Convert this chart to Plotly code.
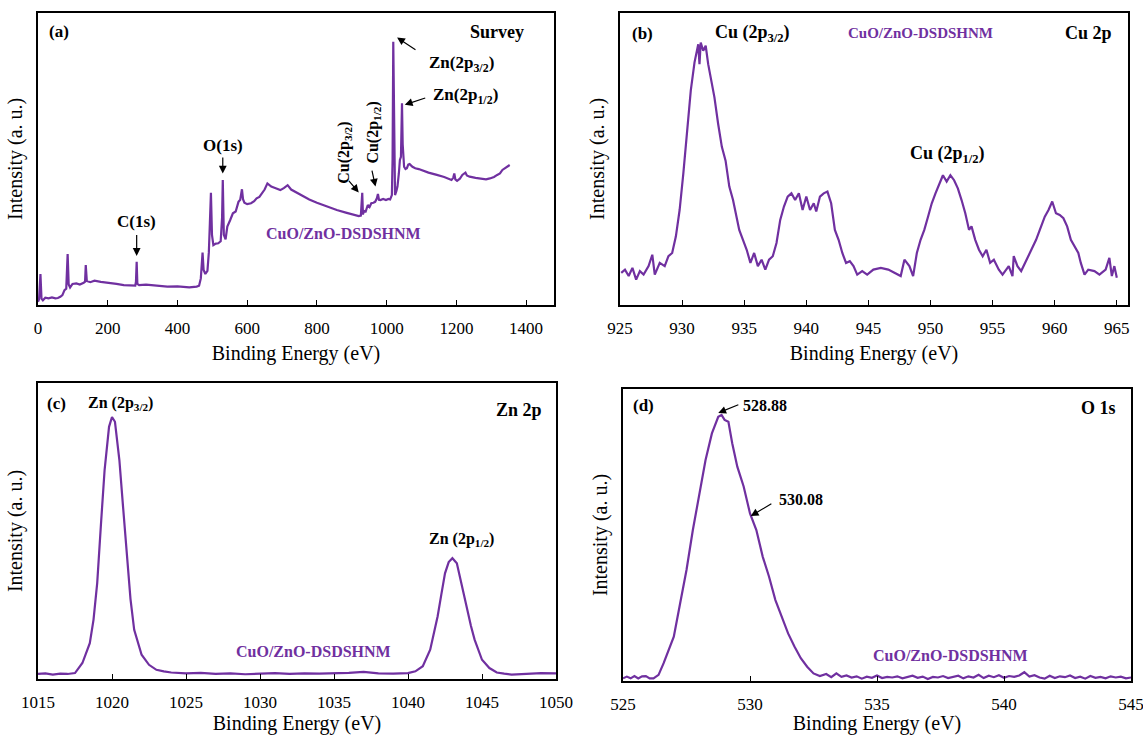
import plotly.graph_objects as go

# ---------------- data (intensity in % of axis height) -------------
survey_ev = [0, 3, 7, 10, 14, 21, 30, 40, 50, 57, 64, 70, 76, 81, 85, 88, 92, 99, 110, 120, 131, 135, 137, 140,
             150, 162, 180, 204, 225, 246, 265, 279, 281, 283, 285, 290, 310, 329, 350, 371, 400, 434, 455, 462,
             467, 470, 472, 475, 480, 486, 490, 493, 496, 499, 503, 510, 517, 524, 528, 530, 533, 538, 543, 551,
             559, 567, 575, 580, 583, 585, 588, 592, 600, 611, 620, 627, 635, 643, 650, 658, 664, 669, 680, 695,
             705, 716, 726, 737, 757, 778, 800, 831, 857, 883, 905, 920, 926, 928, 930, 932, 935, 940, 946, 951,
             956, 962, 967, 972, 975, 978, 982, 990, 998, 1005, 1010, 1015, 1017, 1019, 1021, 1024, 1028, 1031,
             1035, 1038, 1041, 1043, 1044, 1046, 1050, 1054, 1058, 1062, 1066, 1074, 1082, 1092, 1102, 1120,
             1144, 1165, 1186, 1191, 1194, 1197, 1202, 1210, 1217, 1222, 1226, 1230, 1238, 1255, 1270, 1285,
             1296, 1308, 1317, 1325, 1332, 1340, 1348, 1353]
survey_int = [1.1, 2.0, 10.6, 2.2, 1.6, 2.5, 2.3, 2.6, 2.3, 2.4, 2.8, 3.4, 5.1, 5.6, 17.4, 7.0, 6.0, 7.2, 7.4, 7.0,
              7.6, 8.0, 13.7, 8.2, 7.8, 8.3, 7.9, 7.4, 7.2, 6.8, 6.7, 6.6, 8.0, 14.8, 7.2, 6.8, 7.0, 6.8, 6.6,
              6.3, 6.4, 6.0, 6.3, 6.6, 9.1, 14.0, 17.9, 12.0, 10.6, 11.7, 18.0, 28.0, 38.4, 24.0, 20.5, 21.0,
              21.1, 21.8, 30.0, 42.8, 24.0, 22.5, 26.8, 29.0, 31.4, 32.0, 35.3, 36.0, 37.5, 39.6, 36.2, 35.0,
              34.5, 34.8, 35.5, 36.5, 37.0, 38.2, 39.5, 41.6, 40.8, 40.5, 40.0, 39.3, 40.0, 41.0, 39.5, 38.8,
              37.6, 36.1, 35.0, 33.6, 32.5, 31.6, 30.9, 30.4, 30.6, 34.0, 38.4, 31.0, 32.2, 32.0, 34.2, 33.5,
              34.8, 35.0, 35.3, 36.5, 38.0, 36.0, 35.9, 36.3, 35.9, 36.3, 36.1, 37.6, 50.0, 90.1, 60.0, 37.6,
              39.0, 40.5, 45.0, 49.6, 50.7, 62.0, 69.0, 55.0, 47.3, 46.5, 46.8, 48.0, 48.2, 47.3, 46.8, 46.5,
              46.0, 45.3, 44.5, 43.8, 42.8, 43.5, 45.0, 43.0, 42.5, 43.2, 44.5, 45.0, 45.3, 44.3, 43.9, 43.5,
              43.3, 43.0, 43.3, 43.8, 44.5, 45.0, 46.2, 46.8, 47.5, 47.9]

cu_ev = [925.1, 925.4, 925.7, 926.0, 926.3, 926.6, 926.9, 927.3, 927.6, 927.8, 928.2, 928.6, 928.9, 929.2, 929.5,
         929.8, 930.1, 930.4, 930.7, 931.0, 931.3, 931.4, 931.5, 931.7, 931.9, 932.1, 932.3, 932.6, 932.9, 933.2,
         933.5, 933.8, 934.1, 934.4, 934.6, 934.9, 935.2, 935.5, 935.8, 936.1, 936.4, 936.7, 937.0, 937.3, 937.6,
         937.9, 938.2, 938.5, 938.8, 939.1, 939.4, 939.7, 940.0, 940.3, 940.6, 940.8, 941.1, 941.4, 941.7, 942.0,
         942.3, 942.6, 942.9, 943.2, 943.5, 943.8, 944.1, 944.5, 944.9, 945.4, 946.0, 946.6, 947.1, 947.6, 947.9,
         948.3, 948.6, 948.9, 949.2, 949.5, 949.8, 950.1, 950.4, 950.7, 951.0, 951.3, 951.6, 951.9, 952.2, 952.5,
         952.8, 953.1, 953.3, 953.6, 953.9, 954.2, 954.5, 954.8, 955.1, 955.5, 955.8, 956.3, 956.6, 956.7, 957.0,
         957.3, 957.6, 957.9, 958.2, 958.5, 958.8, 959.2, 959.5, 959.8, 960.1, 960.4, 960.7, 961.0, 961.3, 961.6,
         961.9, 962.1, 962.4, 962.7, 963.2, 963.6, 964.1, 964.4, 964.6, 964.8, 965.0]
cu_int = [11.0, 12.1, 9.9, 12.7, 8.7, 11.6, 10.4, 13.3, 17.2, 10.4, 14.4, 13.3, 16.7, 17.8, 23.5, 32.5, 45.0, 59.8,
          73.4, 83.0, 89.2, 82.4, 89.8, 87.0, 88.7, 82.4, 77.9, 71.1, 62.0, 54.1, 49.4, 40.5, 35.9, 29.1, 25.7, 22.3,
          18.9, 14.4, 17.8, 13.3, 15.5, 12.1, 15.5, 16.7, 21.2, 29.1, 33.7, 37.1, 38.2, 35.9, 38.2, 32.5, 37.1, 32.5,
          34.8, 32.0, 37.1, 38.2, 38.8, 34.8, 25.7, 22.3, 17.8, 14.4, 15.0, 13.3, 10.4, 11.6, 10.4, 12.1, 12.7, 12.1,
          11.0, 9.9, 15.5, 13.3, 9.9, 17.8, 22.3, 25.7, 30.2, 34.8, 38.2, 41.6, 44.4, 42.2, 44.4, 42.7, 39.9, 35.9,
          31.4, 25.7, 26.9, 22.3, 18.9, 16.7, 18.9, 14.4, 15.5, 12.1, 10.4, 13.3, 9.9, 16.7, 13.3, 11.6, 14.4, 16.7,
          20.1, 22.3, 25.7, 30.2, 32.5, 35.4, 31.4, 30.8, 29.7, 26.9, 22.3, 20.1, 17.8, 14.4, 10.4, 12.1, 11.6, 10.4,
          12.1, 16.1, 9.9, 13.3, 9.3]

zn_ev = [1015, 1015.5, 1016, 1016.5, 1017, 1017.5, 1018, 1018.5, 1018.75, 1019, 1019.25, 1019.5, 1019.8, 1020,
         1020.2, 1020.5, 1020.75, 1021, 1021.25, 1021.5, 1022, 1022.5, 1023, 1023.5, 1024, 1025, 1026, 1027, 1028,
         1029, 1030, 1031, 1032, 1033, 1034, 1035, 1036, 1037, 1038, 1039, 1040, 1040.5, 1041, 1041.5, 1041.75,
         1042, 1042.25, 1042.5, 1042.75, 1043, 1043.3, 1043.7, 1044, 1044.25, 1044.5, 1045, 1045.5, 1046, 1046.5,
         1047, 1048, 1049, 1050]
zn_int = [1.7, 1.9, 1.5, 1.8, 1.7, 2.0, 5.4, 12.1, 20.0, 32.4, 52.0, 70.6, 85.2, 88.5, 86.9, 73.9, 58.0, 41.3, 27.0,
          16.6, 8.2, 4.8, 3.1, 2.6, 2.2, 1.9, 2.1, 1.7, 1.9, 1.6, 1.8, 2.0, 1.7, 1.9, 1.8, 1.9, 2.1, 2.4, 1.9, 1.8,
          2.0, 2.6, 4.3, 9.9, 15.0, 21.1, 28.5, 35.7, 39.5, 40.8, 39.1, 30.1, 23.4, 18.0, 13.3, 6.5, 3.7, 2.2, 1.8,
          1.5, 1.7, 2.0, 1.9]

o_ev = [525.0, 525.15, 525.3, 525.45, 525.6, 525.75, 525.9, 526.05, 526.2, 526.4, 526.6, 526.8, 527.0, 527.25,
        527.5, 527.75, 528.0, 528.25, 528.5, 528.75, 528.88, 529.0, 529.15, 529.3, 529.5, 529.75, 530.0, 530.1,
        530.25, 530.5, 530.75, 531.0, 531.25, 531.5, 531.75, 532.0, 532.25, 532.5, 532.75, 533.0, 533.2, 533.4,
        533.6, 533.8, 534.0, 534.2, 534.4, 534.6, 534.8, 535.0, 535.2, 535.4, 535.6, 535.8, 536.0, 536.2, 536.4,
        536.6, 536.8, 537.0, 537.2, 537.4, 537.6, 537.8, 538.0, 538.2, 538.4, 538.6, 538.8, 539.0, 539.2, 539.4,
        539.6, 539.8, 540.0, 540.2, 540.4, 540.6, 540.8, 541.0, 541.2, 541.4, 541.6, 541.8, 542.0, 542.2, 542.4,
        542.6, 542.8, 543.0, 543.2, 543.4, 543.6, 543.8, 544.0, 544.2, 544.4, 544.6, 544.8, 545.0]
o_int = [0.9, 1.5, 0.9, 1.7, 0.9, 1.6, 1.7, 0.9, 0.9, 2.1, 6.1, 10.6, 15.2, 26.6, 38.0, 51.7, 64.3, 75.7, 84.8, 90.5,
         91.1, 89.4, 88.8, 81.4, 73.4, 66.6, 57.4, 55.1, 51.7, 42.6, 35.7, 27.7, 22.0, 16.3, 11.8, 7.8, 4.9, 2.6,
         1.7, 2.4, 1.3, 2.6, 1.4, 1.9, 1.2, 1.6, 0.8, 1.5, 1.1, 1.9, 1.0, 1.4, 1.2, 1.6, 0.9, 1.3, 1.8, 1.1, 1.5,
         0.7, 1.4, 1.2, 1.7, 1.0, 1.5, 1.8, 0.9, 1.6, 1.2, 2.1, 1.0, 1.8, 1.3, 2.0, 1.1, 1.7, 1.4, 1.9, 3.0, 1.5,
         2.0, 1.2, 0.8, 1.8, 1.0, 1.6, 1.3, 1.9, 1.0, 1.5, 0.8, 1.7, 1.1, 1.4, 0.9, 1.6, 1.2, 1.5, 0.9, 1.2]

survey_ticks = [0, 200, 400, 600, 800, 1000, 1200, 1400]
cu_ticks = [925, 930, 935, 940, 945, 950, 955, 960, 965]
zn_ticks = [1015, 1020, 1025, 1030, 1035, 1040, 1045, 1050]
o_ticks = [525, 530, 535, 540, 545]

sample = "CuO/ZnO-DSDSHNM"

# ---------------- styling -------------
PURPLE = "#7030A0"
FONT = "Liberation Serif, Times New Roman, serif"
W, H = 1143, 735

def px_x(a, b):
    return [a / W, b / W]

def px_y(top, bottom):
    return [1 - bottom / H, 1 - top / H]

fig = go.Figure()
series = [(survey_ev, survey_int), (cu_ev, cu_int), (zn_ev, zn_int), (o_ev, o_int)]
for i, (xs, ys) in enumerate(series):
    sfx = "" if i == 0 else str(i + 1)
    fig.add_trace(go.Scatter(x=xs, y=ys, mode="lines", line=dict(color=PURPLE, width=2.2),
                             xaxis="x" + sfx, yaxis="y" + sfx, showlegend=False, hoverinfo="skip"))

domains = [
    (px_x(38, 554), px_y(12.7, 305)),
    (px_x(620, 1128), px_y(12.7, 305)),
    (px_x(38, 556), px_y(383, 679)),
    (px_x(623, 1131), px_y(389, 681)),
]
xranges = [[0, 1480], [925, 965.9], [1015, 1050], [525, 545]]
tickvals = [survey_ticks, cu_ticks, zn_ticks, o_ticks]

layout = dict(width=W, height=H, margin=dict(l=0, r=0, t=0, b=0, autoexpand=False),
              paper_bgcolor="white", plot_bgcolor="white",
              font=dict(family=FONT, color="black"))
for i in range(4):
    sfx = "" if i == 0 else str(i + 1)
    xd, yd = domains[i]
    layout["xaxis" + sfx] = dict(
        domain=xd, range=xranges[i], anchor="y" + sfx, tickmode="array", tickvals=tickvals[i],
        ticks="inside", ticklen=5, tickwidth=1, tickcolor="black", automargin=False,
        showline=True, linecolor="black", linewidth=1.5, mirror=True,
        showgrid=False, zeroline=False, tickfont=dict(family=FONT, size=17, color="black"),
        ticklabelstandoff=7, ticklabeloverflow="allow",
        title=dict(text="Binding Energy (eV)", font=dict(family=FONT, size=20, color="black"), standoff=9),
    )
    layout["yaxis" + sfx] = dict(
        domain=yd, range=[0, 100], anchor="x" + sfx, showticklabels=False, ticks="", automargin=False,
        showline=True, linecolor="black", linewidth=1.5, mirror=True,
        showgrid=False, zeroline=False,
        title=dict(text="Intensity (a. u.)", font=dict(family=FONT, size=20, color="black"), standoff=8),
    )

fig.update_layout(**layout)

def txt(xref, yref, x, y, text, size=16, color="black", angle=0, bold=True, xanchor="center"):
    t = f"<b>{text}</b>" if bold else text
    fig.add_annotation(xref=xref, yref=yref, x=x, y=y, text=t, showarrow=False, textangle=angle,
                       font=dict(family=FONT, size=size, color=color), xanchor=xanchor, yanchor="middle")

def arrow(xref, yref, x, y, ax, ay):
    fig.add_annotation(xref=xref, yref=yref, x=x, y=y, ax=ax, ay=ay, axref=xref, ayref=yref, text="",
                       showarrow=True, arrowhead=2, arrowsize=1.3, arrowwidth=1.2, arrowcolor="black")

# panel (a)
txt("x", "y", 25, 93.5, "(a)", 17, xanchor="left")
txt("x", "y", 1400, 93.5, "Survey", 18, xanchor="right")
txt("x", "y", 283, 28.5, "C(1s)", 17)
arrow("x", "y", 283, 16.8, 283, 24.5)
txt("x", "y", 530, 54.5, "O(1s)", 17)
arrow("x", "y", 530, 45.0, 530, 51.0)
txt("x", "y", 880, 52, "Cu(2p<sub>3/2</sub>)", 16, angle=-90)
arrow("x", "y", 920, 38.5, 888, 43.0)
txt("x", "y", 961, 59, "Cu(2p<sub>1/2</sub>)", 16, angle=-90)
arrow("x", "y", 968, 40.5, 957, 46.5)
txt("x", "y", 1215, 82.5, "Zn(2p<sub>3/2</sub>)", 17)
arrow("x", "y", 1030, 91.5, 1087, 87.0)
txt("x", "y", 1225, 71.5, "Zn(2p<sub>1/2</sub>)", 17)
arrow("x", "y", 1052, 68.5, 1115, 71.0)
txt("x", "y", 877, 24.5, sample, 16, color=PURPLE)

# panel (b)
txt("x2", "y2", 925.8, 93.0, "(b)", 17, xanchor="left")
txt("x2", "y2", 935.7, 93.0, "Cu (2p<sub>3/2</sub>)", 18)
txt("x2", "y2", 949.2, 93.0, sample, 15, color=PURPLE)
txt("x2", "y2", 964.8, 93.0, "Cu 2p", 18, xanchor="right")
txt("x2", "y2", 951.4, 51.6, "Cu (2p<sub>1/2</sub>)", 18)

# panel (c)
txt("x3", "y3", 1015.5, 93.0, "(c)", 17, xanchor="left")
txt("x3", "y3", 1020.6, 93.0, "Zn (2p<sub>3/2</sub>)", 16)
txt("x3", "y3", 1049.2, 90.8, "Zn 2p", 18, xanchor="right")
txt("x3", "y3", 1043.6, 47.0, "Zn (2p<sub>1/2</sub>)", 16)
txt("x3", "y3", 1033.6, 9.3, sample, 16, color=PURPLE)

# panel (d)
txt("x4", "y4", 525.3, 94.5, "(d)", 17, xanchor="left")
txt("x4", "y4", 530.6, 94.5, "528.88", 16)
arrow("x4", "y4", 528.75, 91.8, 529.6, 94.8)
txt("x4", "y4", 532.0, 62.0, "530.08", 16)
arrow("x4", "y4", 530.03, 56.5, 530.9, 61.0)
txt("x4", "y4", 544.5, 93.4, "O 1s", 18, xanchor="right")
txt("x4", "y4", 537.9, 8.9, sample, 16, color=PURPLE)

fig.write_html("out.html", config={"displayModeBar": False},
               post_script="document.body.style.margin='0px';")
